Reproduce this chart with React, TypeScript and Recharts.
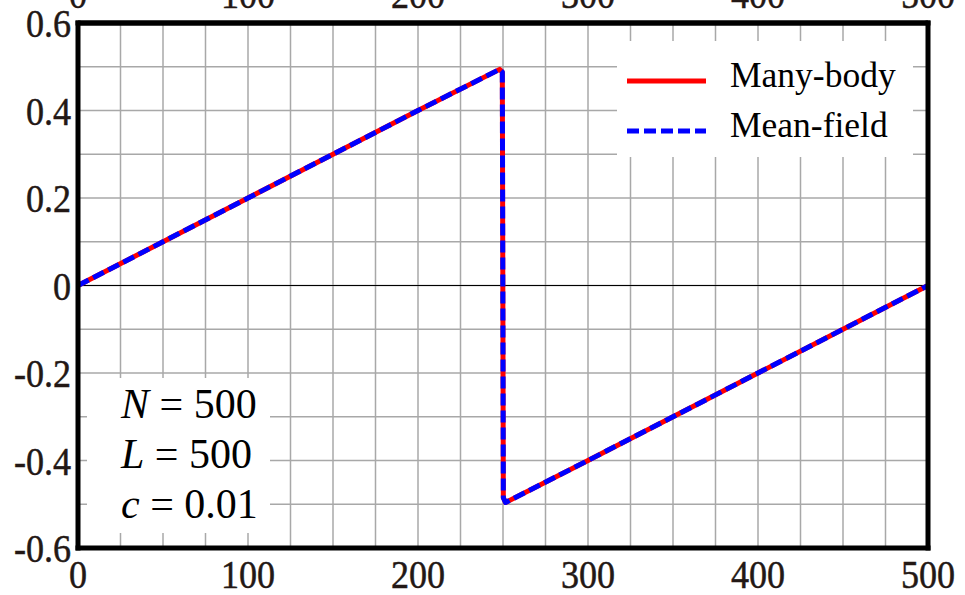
import { CartesianGrid, ComposedChart, Legend, Line, ReferenceLine, XAxis, YAxis } from "recharts";

const xs = [0, 50, 100, 150, 200, 248, 249.6, 250.2, 251.5, 300, 350, 400, 450, 500];
const manyBody = [0, 0.1, 0.2, 0.3, 0.4, 0.494, 0.488, -0.485, -0.496, -0.4, -0.3, -0.2, -0.1, 0];
const meanField = [0, 0.1, 0.2, 0.3, 0.4, 0.494, 0.488, -0.485, -0.496, -0.4, -0.3, -0.2, -0.1, 0];

const xTicks = [0, 100, 200, 300, 400, 500];
const xGrid = Array.from({ length: 21 }, (_, i) => i * 25);
const yGrid = [-0.6, -0.5, -0.4, -0.3, -0.2, -0.1, 0, 0.1, 0.2, 0.3, 0.4, 0.5, 0.6];

const series = [
  { key: "mb", name: "Many-body", color: "#ff0000", dash: undefined as string | undefined },
  { key: "mf", name: "Mean-field", color: "#0000ff", dash: "12 5" },
];

const notes = [
  { sym: "N", val: "500" },
  { sym: "L", val: "500" },
  { sym: "c", val: "0.01" },
];

const data = xs.map((x, i) => ({ x, mb: manyBody[i], mf: meanField[i] }));

const FONT = '"Liberation Serif", "Times New Roman", serif';
const TICK_COLOR = "#231815";
const frame = { stroke: "#000", strokeWidth: 5, strokeLinecap: "square" as const };

// labels only every 100 / every 0.2, grid lines at the finer steps
const isMajorX = (v: number) => v % 100 === 0;
const isMajorY = (v: number) => Math.abs(Math.round(v * 10)) % 2 === 0;
const fmtY = (v: number) => (Math.abs(v) < 1e-9 ? "0" : v.toFixed(1));

function XTick(props: any, dy: number) {
  const { x, y, payload } = props;
  if (!isMajorX(payload.value)) return <g />;
  return (
    <text
      transform={`translate(${x},${y + dy}) scale(0.88,1)`}
      textAnchor="middle"
      fontFamily={FONT}
      fontSize={41}
      fill={TICK_COLOR}
      stroke={TICK_COLOR}
      strokeWidth={0.5}
    >
      {payload.value}
    </text>
  );
}

function LeftTick(props: any) {
  const { x, y, payload } = props;
  if (!isMajorY(payload.value)) return <g />;
  return (
    <text
      transform={`translate(${x - 7},${y + 14}) scale(0.88,1)`}
      textAnchor="end"
      fontFamily={FONT}
      fontSize={41}
      fill={TICK_COLOR}
      stroke={TICK_COLOR}
      strokeWidth={0.5}
    >
      {fmtY(payload.value)}
    </text>
  );
}

function LegendBox() {
  return (
    <svg width={296} height={116} style={{ display: "block", background: "#fff" }}>
      {series.map((s, i) => (
        <g key={s.key}>
          <line
            x1={10}
            x2={89}
            y1={40 + i * 50}
            y2={40 + i * 50}
            stroke={s.color}
            strokeWidth={5}
            strokeDasharray={s.dash}
          />
          <text x={113} y={46 + i * 50} fontFamily={FONT} fontSize={35.5} fill="#000">
            {s.name}
          </text>
        </g>
      ))}
    </svg>
  );
}

export default function App() {
  return (
    <div
      style={{
        position: "absolute",
        left: 0,
        top: 0,
        width: 965,
        height: 595,
        overflow: "hidden",
        background: "#fff",
      }}
    >
      <div style={{ position: "absolute", left: 0, top: -30 }}>
        <ComposedChart width={965} height={625} data={data} margin={{ top: 0, right: 0, bottom: 0, left: 0 }}>
          <CartesianGrid stroke="#a8a8a8" strokeWidth={1.5} />
          <XAxis
            dataKey="x"
            type="number"
            domain={[0, 500]}
            ticks={xGrid}
            height={47}
            tickSize={0}
            tickMargin={0}
            tickLine={false}
            axisLine={frame}
            tick={(p: any) => XTick(p, 40)}
            interval={0}
          />
          <XAxis
            xAxisId="top"
            orientation="top"
            dataKey="x"
            type="number"
            domain={[0, 500]}
            ticks={xTicks}
            height={53}
            tickSize={0}
            tickMargin={0}
            tickLine={false}
            axisLine={frame}
            tick={(p: any) => XTick(p, -15)}
            interval={0}
          />
          <YAxis
            type="number"
            domain={[-0.6, 0.6]}
            ticks={yGrid}
            width={78}
            tickSize={0}
            tickMargin={0}
            tickLine={false}
            axisLine={frame}
            tick={LeftTick}
            interval={0}
          />
          <YAxis
            yAxisId="right"
            orientation="right"
            type="number"
            domain={[-0.6, 0.6]}
            width={37}
            tick={false}
            tickLine={false}
            axisLine={frame}
          />
          <ReferenceLine y={0} stroke="#000" strokeWidth={1.2} />
          <ReferenceLine y={0.6} stroke="#000" strokeWidth={5} ifOverflow="visible" />
          <Legend
            layout="vertical"
            align="center"
            verticalAlign="middle"
            wrapperStyle={{ left: 617, top: 71, width: 296, height: 116 }}
            content={() => <LegendBox />}
          />
          {series.map((s) => (
            <Line
              key={s.key}
              dataKey={s.key}
              name={s.name}
              type="linear"
              stroke={s.color}
              strokeWidth={5}
              strokeDasharray={s.dash}
              strokeLinejoin="round"
              dot={false}
              activeDot={false}
              isAnimationActive={false}
            />
          ))}
        </ComposedChart>
      </div>
      <div
        style={{
          position: "absolute",
          left: 87,
          top: 378,
          width: 183,
          height: 155,
          background: "#fff",
          boxSizing: "border-box",
          paddingTop: 1,
          paddingLeft: 34,
          fontFamily: FONT,
          fontSize: 42,
          lineHeight: "50px",
          color: "#000",
          whiteSpace: "nowrap",
        }}
      >
        {notes.map((n) => (
          <div key={n.sym}>
            <i>{n.sym}</i> = {n.val}
          </div>
        ))}
      </div>
    </div>
  );
}
